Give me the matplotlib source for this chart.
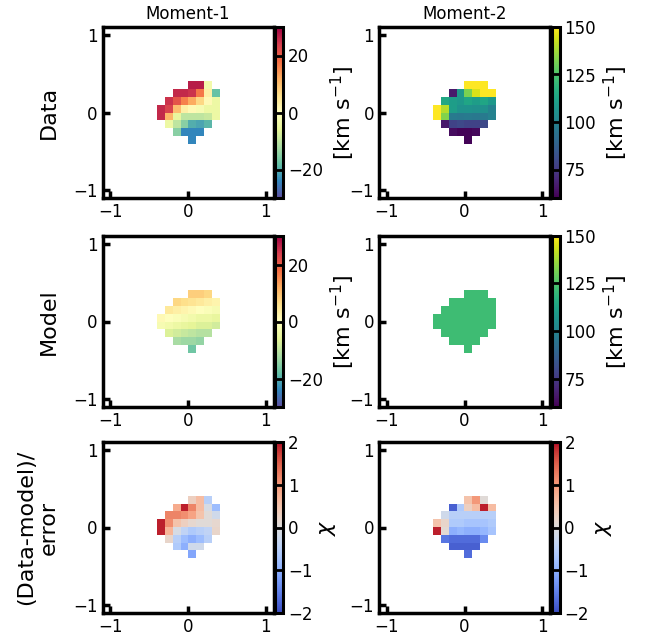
import numpy as np
import matplotlib
matplotlib.use('Agg')
import matplotlib.pyplot as plt

# pixel rows of the maps, from top (y=0.35) to bottom (y=-0.35)
row_y = [0.35, 0.25, 0.15, 0.05, -0.05, -0.15, -0.25, -0.35]
row_x0 = [0.05, -0.15, -0.25, -0.35, -0.35, -0.25, -0.15, 0.05]

mom1_data = [[27, 27, -3],
             [26, 26, 25, 17, 3, -18],
             [25, 21, 16, 12, 7, 1, -4],
             [26, 23, 10, 3, 1, -2, -4, -4],
             [26, 11, -5, -10, -10, -10, -9, -4],
             [-4, -10, -15, -20, -21, -19],
             [-15, -24, -24, -24],
             [-24]]
mom2_data = [[150, 150, 150],
             [66, 108, 132, 145, 150, 150],
             [114, 110, 108, 113, 110, 113, 108],
             [150, 140, 110, 106, 106, 105, 105, 100],
             [150, 133, 97, 96, 97, 96, 97, 100],
             [66, 78, 80, 78, 78, 80],
             [63, 61, 61, 62],
             [61]]
mom1_model = [[8, 8, 7],
              [7, 6, 5, 4, 3, 2],
              [4, 3, 2, 1, 0, -1, -2],
              [1, 0, -1, -2, -3, -4, -4, -5],
              [-2, -3, -4, -5, -6, -7, -7, -8],
              [-7, -8, -9, -10, -11, -11],
              [-12, -13, -13, -14],
              [-17]]
mom2_model_value = 122
res1 = [[0.3, 0.6, -0.5],
        [0.8, 1.9, 1.2, 0.6, -0.1, -0.8],
        [1.2, 1.2, 1.1, 0.9, 0.5, 0.05, -0.2],
        [1.9, 1.1, 0.5, 0.3, 0.15, 0.05, 0.05, 0.15],
        [1.9, 0.7, -0.1, -0.4, -0.6, -0.5, -0.4, 0.2],
        [0.2, -0.5, -0.8, -1.0, -0.8, -0.5],
        [-0.6, -1.0, -0.2, -0.2],
        [-1.1]]
res2 = [[0.5, 1.0, 0.05],
        [-1.8, -0.6, 0.3, 0.6, 1.9, 0.6],
        [-0.2, -0.5, -0.5, -0.5, -0.5, -0.5, -0.5],
        [0.5, 0.2, -0.6, -0.6, -0.7, -0.7, -0.7, -0.6],
        [1.9, 0.1, -1.0, -0.9, -1.0, -1.0, -0.9, -0.7],
        [-1.6, -1.7, -1.7, -1.7, -1.7, -1.4],
        [-1.8, -1.8, -1.8, -1.8],
        [-1.7]]

col_titles = ['Moment-1', 'Moment-2']
row_labels = ['Data', 'Model', '(Data-model)/\nerror']

ext = 1.1
npix = 22
step = 2 * ext / npix


def to_grid(rows):
    g = np.full((npix, npix), np.nan)
    for y, x0, vals in zip(row_y, row_x0, rows):
        i = int(round((y + ext) / step - 0.5))
        j0 = int(round((x0 + ext) / step - 0.5))
        for k, v in enumerate(vals):
            g[i, j0 + k] = v
    return g


mom2_model = [[mom2_model_value] * len(r) for r in mom1_model]

maps = [[to_grid(mom1_data), to_grid(mom2_data)],
        [to_grid(mom1_model), to_grid(mom2_model)],
        [to_grid(res1), to_grid(res2)]]

cmaps = ['Spectral_r', 'viridis']
lims = [(-30, 30), (60, 150)]
cticks = [[-20, 0, 20], [75, 100, 125, 150]]

W, H = 646, 640
fig = plt.figure(figsize=(W / 100, H / 100), dpi=100)

ax_left = [102.5, 379.0]
ax_top = [27.0, 236.0, 442.0]
size = 171.0
cb_w = 8.0
cb_gap = 1.5

for r in range(3):
    for c in range(2):
        l = ax_left[c] / W
        b = 1 - (ax_top[r] + size) / H
        ax = fig.add_axes([l, b, size / W, size / H])
        if r < 2:
            cmap, (vmin, vmax), ticks = cmaps[c], lims[c], cticks[c]
            clab = '[km s$^{-1}$]'
        else:
            cmap, vmin, vmax, ticks = 'coolwarm', -2, 2, [-2, -1, 0, 1, 2]
            clab = r'$\chi$'
        im = ax.imshow(maps[r][c], origin='lower', cmap=cmap, vmin=vmin, vmax=vmax,
                       extent=[-ext, ext, -ext, ext], interpolation='nearest')
        ax.set_xlim(-ext, ext)
        ax.set_ylim(-ext, ext)
        ax.set_xticks([-1, 0, 1])
        ax.set_yticks([-1, 0, 1])
        ax.tick_params(direction='in', length=5, width=2.5, labelsize=12,
                       top=False, right=False)
        for sp in ax.spines.values():
            sp.set_linewidth(2.5)
        if r == 0:
            ax.set_title(col_titles[c], fontsize=12)
        if c == 0:
            ax.set_ylabel(row_labels[r], fontsize=16, labelpad=10)

        cax = fig.add_axes([(ax_left[c] + size + cb_gap) / W, b, cb_w / W, size / H])
        cb = fig.colorbar(im, cax=cax, ticks=ticks)
        cb.outline.set_linewidth(2.2)
        cax.tick_params(direction='in', length=6, width=2, labelsize=12)
        cb.set_label(clab, fontsize=16)

plt.savefig('out.png', dpi=100)
